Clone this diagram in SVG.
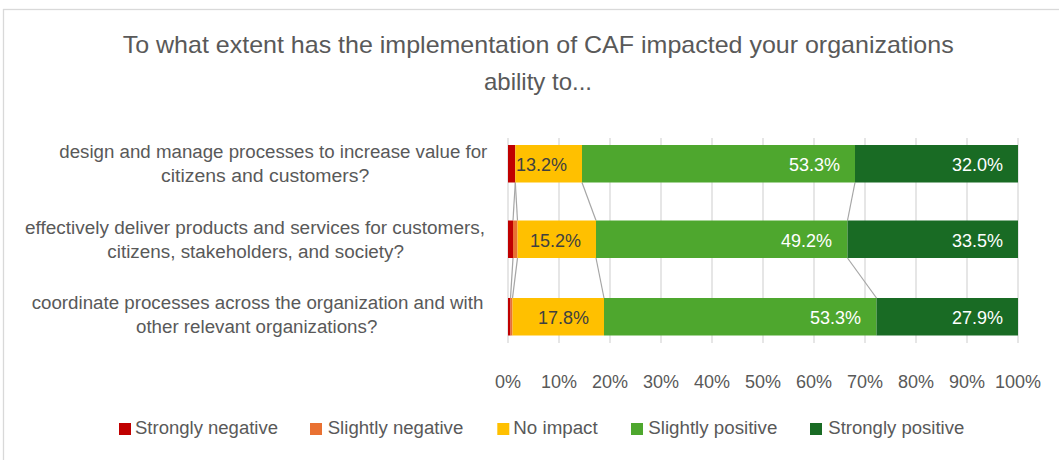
<svg xmlns="http://www.w3.org/2000/svg" width="1059" height="460" viewBox="0 0 1059 460">
<style>
text{font-family:"Liberation Sans",Arial,sans-serif;fill:#595959}
.t{font-size:24px}
.c{font-size:18px}
.ax{font-size:18px;text-anchor:middle}
.lg{font-size:18px}
.v{font-size:18px;text-anchor:end}
.vd{fill:#404040}
.vw{fill:#FFFFFF}
.grid line{stroke:#D9D9D9;stroke-width:1.3}
.sl{stroke:#A6A6A6;stroke-width:1.2;fill:none}
.sn{fill:#C00000}.so{fill:#E97132}.ni{fill:#FFC000}.sp{fill:#4EA72E}.sd{fill:#196B24}
</style>
<rect x="3.5" y="9.5" width="1100" height="500" fill="#FFFFFF" stroke="#D9D9D9" stroke-width="1.3"/>
<g id="title">
<text class="t" x="122.7" y="53.3" textLength="831" lengthAdjust="spacingAndGlyphs">To what extent has the implementation of CAF impacted your organizations</text>
<text class="t" x="538" y="89.5" text-anchor="middle">ability to...</text>
</g>
<g class="grid" id="gridlines">
<line x1="508" y1="138" x2="508" y2="343"/>
<line x1="559" y1="138" x2="559" y2="343"/>
<line x1="610" y1="138" x2="610" y2="343"/>
<line x1="661" y1="138" x2="661" y2="343"/>
<line x1="712" y1="138" x2="712" y2="343"/>
<line x1="763" y1="138" x2="763" y2="343"/>
<line x1="814" y1="138" x2="814" y2="343"/>
<line x1="865" y1="138" x2="865" y2="343"/>
<line x1="916" y1="138" x2="916" y2="343"/>
<line x1="967" y1="138" x2="967" y2="343"/>
<line x1="1018" y1="138" x2="1018" y2="343"/>
</g>
<g id="connectors">
<line class="sl" x1="515.3" y1="182.5" x2="513" y2="220.5"/>
<line class="sl" x1="515.3" y1="182.5" x2="517.5" y2="220.5"/>
<line class="sl" x1="582" y1="182.5" x2="596" y2="220.5"/>
<line class="sl" x1="855" y1="182.5" x2="847.5" y2="220.5"/>
<line class="sl" x1="513" y1="258" x2="510.5" y2="298"/>
<line class="sl" x1="517.5" y1="258" x2="512.5" y2="298"/>
<line class="sl" x1="596" y1="258" x2="604" y2="298"/>
<line class="sl" x1="847.5" y1="258" x2="876.5" y2="298"/>
</g>
<g id="cat1">
<text class="c" x="59.3" y="158" textLength="428" lengthAdjust="spacingAndGlyphs">design and manage processes to increase value for</text>
<text class="c" x="161" y="182" textLength="208.3" lengthAdjust="spacingAndGlyphs">citizens and customers?</text>
</g>
<g id="cat2">
<text class="c" x="25" y="233.5" textLength="460" lengthAdjust="spacingAndGlyphs">effectively deliver products and services for customers,</text>
<text class="c" x="107.3" y="257.5" textLength="296.7" lengthAdjust="spacingAndGlyphs">citizens, stakeholders, and society?</text>
</g>
<g id="cat3">
<text class="c" x="31.7" y="309" textLength="451.6" lengthAdjust="spacingAndGlyphs">coordinate processes across the organization and with</text>
<text class="c" x="136" y="333" textLength="241.3" lengthAdjust="spacingAndGlyphs">other relevant organizations?</text>
</g>
<g id="bar1">
<rect class="sn" x="508" y="145" width="7.3" height="37.5"/>
<rect class="ni" x="515.3" y="145" width="66.7" height="37.5"/>
<rect class="sp" x="582" y="145" width="273" height="37.5"/>
<rect class="sd" x="855" y="145" width="163" height="37.5"/>
<text class="v vd" x="567" y="171.3">13.2%</text>
<text class="v vw" x="840" y="171.3">53.3%</text>
<text class="v vw" x="1003" y="171.3">32.0%</text>
</g>
<g id="bar2">
<rect class="sn" x="508" y="220.5" width="5" height="37.5"/>
<rect class="so" x="513" y="220.5" width="4.5" height="37.5"/>
<rect class="ni" x="517.5" y="220.5" width="78.5" height="37.5"/>
<rect class="sp" x="596" y="220.5" width="251.5" height="37.5"/>
<rect class="sd" x="847.5" y="220.5" width="170.5" height="37.5"/>
<text class="v vd" x="581" y="246.8">15.2%</text>
<text class="v vw" x="832" y="246.8">49.2%</text>
<text class="v vw" x="1003" y="246.8">33.5%</text>
</g>
<g id="bar3">
<rect class="sn" x="508" y="298" width="2.5" height="37.5"/>
<rect class="so" x="510.5" y="298" width="2" height="37.5"/>
<rect class="ni" x="512.5" y="298" width="91.5" height="37.5"/>
<rect class="sp" x="604" y="298" width="272.5" height="37.5"/>
<rect class="sd" x="876.5" y="298" width="141.5" height="37.5"/>
<text class="v vd" x="589" y="323.5">17.8%</text>
<text class="v vw" x="861" y="323.5">53.3%</text>
<text class="v vw" x="1003" y="323.5">27.9%</text>
</g>
<g id="axis">
<text class="ax" x="508" y="388">0%</text>
<text class="ax" x="559" y="388">10%</text>
<text class="ax" x="610" y="388">20%</text>
<text class="ax" x="661" y="388">30%</text>
<text class="ax" x="712" y="388">40%</text>
<text class="ax" x="763" y="388">50%</text>
<text class="ax" x="814" y="388">60%</text>
<text class="ax" x="865" y="388">70%</text>
<text class="ax" x="916" y="388">80%</text>
<text class="ax" x="967" y="388">90%</text>
<text class="ax" x="1018" y="388">100%</text>
</g>
<g id="legend">
<rect class="sn" x="119" y="423" width="12" height="12"/>
<text class="lg" x="135" y="433.5" textLength="143" lengthAdjust="spacingAndGlyphs">Strongly negative</text>
<rect class="so" x="310" y="423" width="12" height="12"/>
<text class="lg" x="327.7" y="433.5" textLength="135.6" lengthAdjust="spacingAndGlyphs">Slightly negative</text>
<rect class="ni" x="497.3" y="423" width="12" height="12"/>
<text class="lg" x="513.3" y="433.5" textLength="84.4" lengthAdjust="spacingAndGlyphs">No impact</text>
<rect class="sp" x="631" y="423" width="12" height="12"/>
<text class="lg" x="648.3" y="433.5" textLength="129" lengthAdjust="spacingAndGlyphs">Slightly positive</text>
<rect class="sd" x="810" y="423" width="12" height="12"/>
<text class="lg" x="828.3" y="433.5" textLength="136" lengthAdjust="spacingAndGlyphs">Strongly positive</text>
</g>
</svg>
